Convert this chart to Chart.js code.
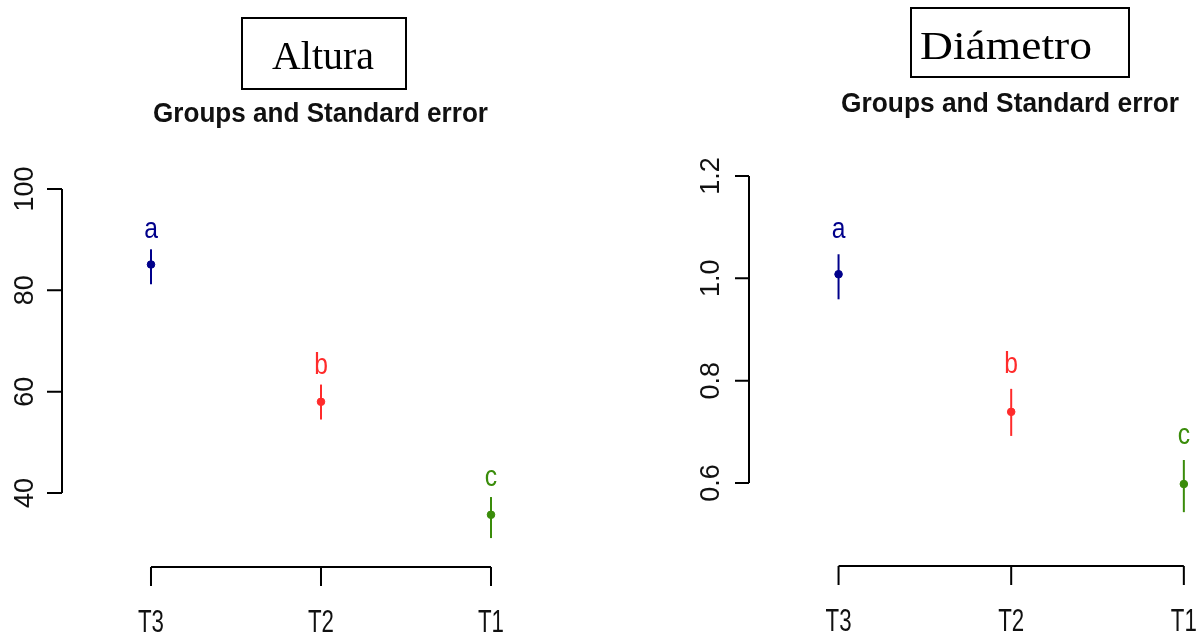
<!DOCTYPE html>
<html><head><meta charset="utf-8">
<script src="https://cdn.jsdelivr.net/npm/chart.js@4/dist/chart.umd.min.js"></script>
<style>
html,body{margin:0;padding:0;background:#fff;overflow:hidden}
#wrap{position:relative;width:1199px;height:637px;background:#fff}
canvas{position:absolute;left:0;top:0}
</style>
</head><body>
<div id="wrap"><canvas id="c1" width="1199" height="637"></canvas><canvas id="c2" width="1199" height="637"></canvas></div>
<script>
// ---- data ----
const categories = ['T3', 'T2', 'T1'];
const groupLetters = ['a', 'b', 'c'];
const groupColors = ['#00008b', '#ff2b2b', '#3a8c0a'];

const alturaMean  = [85.1, 58.0, 35.7];
const alturaUpper = [88.1, 61.4, 39.2];
const alturaLower = [81.2, 54.5, 31.1];
const alturaTicks = [40, 60, 80, 100];
const alturaTickLabels = ['40', '60', '80', '100'];

const diamMean  = [1.008, 0.739, 0.598];
const diamUpper = [1.047, 0.784, 0.645];
const diamLower = [0.959, 0.692, 0.543];
const diamTicks = [0.6, 0.8, 1.0, 1.2];
const diamTickLabels = ['0.6', '0.8', '1.0', '1.2'];

const SANS = '"Liberation Sans", Arial, sans-serif';
const SERIF = '"Liberation Serif", "Times New Roman", serif';

function drawText(ctx, s, x, y, font, o) {
  o = o || {};
  ctx.save();
  ctx.font = font;
  ctx.fillStyle = o.color || '#000';
  ctx.textBaseline = 'alphabetic';
  const w = ctx.measureText(s).width;
  const sx = o.width ? o.width / w : (o.sx || 1);
  ctx.translate(x, y);
  if (o.rot) ctx.rotate(o.rot);
  ctx.scale(sx, 1);
  let dx = 0;
  if (o.align === 'center') dx = -w / 2; else if (o.align === 'right') dx = -w;
  ctx.fillText(s, dx, 0);
  ctx.restore();
}

function makePlugin(cfg) {
  return {
    id: 'rplot',
    beforeDatasetsDraw(chart) {
      const ctx = chart.ctx, xs = chart.scales.x, ys = chart.scales.y;
      ctx.save();
      ctx.lineWidth = 2;
      cfg.means.forEach((m, i) => {
        const px = xs.getPixelForValue(i + 1);
        ctx.strokeStyle = groupColors[i];
        ctx.beginPath();
        ctx.moveTo(px, ys.getPixelForValue(cfg.upper[i]));
        ctx.lineTo(px, ys.getPixelForValue(cfg.lower[i]));
        ctx.stroke();
      });
      ctx.restore();
    },
    afterDraw(chart) {
      const ctx = chart.ctx, xs = chart.scales.x, ys = chart.scales.y, ca = chart.chartArea;
      ctx.save();
      ctx.strokeStyle = '#000';
      ctx.lineWidth = 2;
      ctx.lineCap = 'butt';
      // y axis (R style: spans tick range only)
      const yTop = ys.getPixelForValue(cfg.ticks[cfg.ticks.length - 1]);
      const yBot = ys.getPixelForValue(cfg.ticks[0]);
      ctx.beginPath();
      ctx.moveTo(ca.left, yTop); ctx.lineTo(ca.left, yBot);
      cfg.ticks.forEach(t => {
        const py = ys.getPixelForValue(t);
        ctx.moveTo(ca.left - cfg.yTickLen, py); ctx.lineTo(ca.left, py);
      });
      ctx.stroke();
      // x axis
      const xL = xs.getPixelForValue(1), xR = xs.getPixelForValue(categories.length);
      ctx.beginPath();
      ctx.moveTo(xL, ca.bottom); ctx.lineTo(xR, ca.bottom);
      categories.forEach((c, i) => {
        const px = xs.getPixelForValue(i + 1);
        ctx.moveTo(px, ca.bottom); ctx.lineTo(px, ca.bottom + 19);
      });
      ctx.stroke();
      ctx.restore();
      // y tick labels rotated
      cfg.ticks.forEach((t, i) => {
        drawText(ctx, cfg.tickLabels[i], ca.left - cfg.yLabGap, ys.getPixelForValue(t),
          '27px ' + SANS, {align: 'center', rot: -Math.PI / 2, color: '#111'});
      });
      // x labels
      categories.forEach((c, i) => {
        drawText(ctx, c, xs.getPixelForValue(i + 1), ca.bottom + 65, '31px ' + SANS,
          {align: 'center', width: 26, color: '#111'});
      });
      // group letters
      groupLetters.forEach((l, i) => {
        drawText(ctx, l, xs.getPixelForValue(i + 1), ys.getPixelForValue(cfg.upper[i]) - cfg.letterGap,
          '29px ' + SANS, {align: 'center', sx: 0.85, color: groupColors[i]});
      });
      // title box
      ctx.save();
      ctx.strokeStyle = '#000';
      ctx.lineWidth = 2;
      const b = cfg.box;
      ctx.strokeRect(b[0], b[1], b[2] - b[0], b[3] - b[1]);
      ctx.restore();
      drawText(ctx, cfg.title, cfg.titleX, cfg.titleBase, '40px ' + SERIF, {width: cfg.titleW});
      drawText(ctx, 'Groups and Standard error', cfg.subX, cfg.subBase, 'bold 28px ' + SANS,
        {width: cfg.subW, color: '#111'});
    }
  };
}

function makeChart(id, cfg) {
  const data = cfg.means.map((m, i) => ({x: i + 1, y: m}));
  return new Chart(document.getElementById(id), {
    type: 'scatter',
    data: {
      datasets: [{
        data: data,
        pointRadius: 3.8,
        pointHoverRadius: 3.8,
        pointBackgroundColor: groupColors,
        pointBorderColor: groupColors,
        pointBorderWidth: 1
      }]
    },
    options: {
      responsive: false,
      animation: false,
      devicePixelRatio: 1,
      events: [],
      layout: {padding: cfg.padding},
      plugins: {legend: {display: false}, tooltip: {enabled: false}, title: {display: false}},
      scales: {
        x: {type: 'linear', display: false, min: cfg.xRange[0], max: cfg.xRange[1]},
        y: {type: 'linear', display: false, min: cfg.yRange[0], max: cfg.yRange[1]}
      }
    },
    plugins: [makePlugin(cfg)]
  });
}

makeChart('c1', {
  means: alturaMean, upper: alturaUpper, lower: alturaLower,
  ticks: alturaTicks, tickLabels: alturaTickLabels,
  xRange: [0.4765, 3.3], yRange: [25.39, 110],
  padding: {left: 62, right: 657, top: 138.35, bottom: 70},
  yTickLen: 15, yLabGap: 29, letterGap: 11,
  title: 'Altura', box: [242, 18, 406, 89], titleX: 272, titleBase: 69, titleW: 102,
  subX: 153, subBase: 122, subW: 335
});

makeChart('c2', {
  means: diamMean, upper: diamUpper, lower: diamLower,
  ticks: diamTicks, tickLabels: diamTickLabels,
  xRange: [0.4813, 3.06], yRange: [0.4378, 1.3],
  padding: {left: 749, right: 2.6, top: 124.8, bottom: 71},
  yTickLen: 14, yLabGap: 30, letterGap: 16,
  title: 'Diámetro', box: [911, 8, 1129, 77], titleX: 920, titleBase: 59, titleW: 172,
  subX: 841, subBase: 112, subW: 338
});
</script>
</body></html>
